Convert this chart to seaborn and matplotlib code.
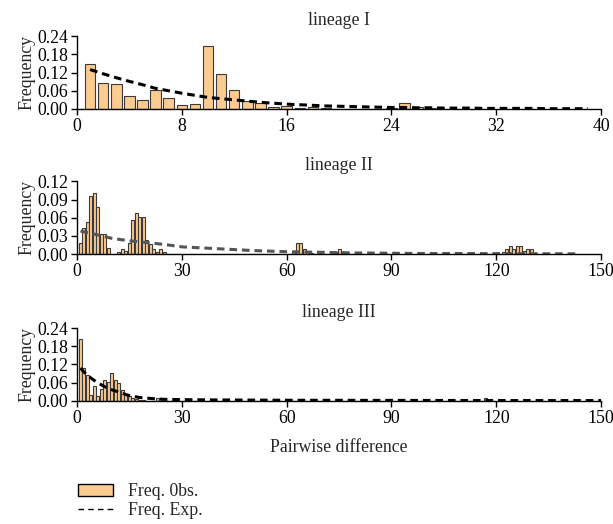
import matplotlib
matplotlib.use("Agg")
import matplotlib.pyplot as plt
from matplotlib.patches import Patch
from matplotlib.lines import Line2D
import seaborn as sns

# lineage I: observed / expected frequency of pairwise differences
lin1_x = list(range(1, 28))
lin1_obs = [0.147, 0.087, 0.082, 0.042, 0.030, 0.063, 0.037, 0.013, 0.016, 0.208,
            0.115, 0.062, 0.026, 0.020, 0.005, 0.010, 0.003, 0.005, 0.002, 0.001,
            0.001, 0.001, 0.001, 0.004, 0.020, 0.005, 0.003]
lin1_exp_x = list(range(1, 40))
lin1_exp = [0.130, 0.116, 0.103, 0.091, 0.080, 0.068, 0.060, 0.052, 0.045, 0.038,
            0.034, 0.030, 0.026, 0.022, 0.019, 0.016, 0.014, 0.012, 0.010, 0.009,
            0.008, 0.007, 0.006, 0.005, 0.005, 0.004, 0.004, 0.003, 0.003, 0.003,
            0.002, 0.002, 0.002, 0.002, 0.002, 0.001, 0.001, 0.001, 0.001]

# lineage II
lin2_x = [1, 2, 3, 4, 5, 6, 7, 8, 9,
          12, 13, 14, 15, 16, 17, 18, 19, 20, 21, 22, 23, 24, 25,
          62, 63, 64, 65, 66, 67, 69, 74, 75, 76,
          122, 123, 124, 125, 126, 127, 128, 129, 130]
lin2_obs = [0.019, 0.043, 0.053, 0.096, 0.100, 0.077, 0.034, 0.034, 0.010,
            0.004, 0.009, 0.005, 0.019, 0.057, 0.067, 0.062, 0.062, 0.024, 0.016,
            0.009, 0.004, 0.009, 0.004,
            0.004, 0.019, 0.019, 0.009, 0.004, 0.002, 0.004, 0.003, 0.009, 0.004,
            0.004, 0.009, 0.014, 0.009, 0.014, 0.014, 0.005, 0.009, 0.009]
lin2_exp_x = [1, 5, 10, 15, 20, 25, 30, 40, 50, 60, 70, 80, 90, 100, 110, 120, 130, 143]
lin2_exp = [0.038, 0.033, 0.026, 0.022, 0.019, 0.016, 0.012, 0.009, 0.006, 0.004,
            0.003, 0.002, 0.0015, 0.001, 0.001, 0.0008, 0.0006, 0.0005]

# lineage III
lin3_x = list(range(1, 20)) + [23, 24, 117]
lin3_obs = [0.204, 0.108, 0.086, 0.019, 0.048, 0.015, 0.040, 0.070, 0.062, 0.093,
            0.068, 0.059, 0.037, 0.024, 0.015, 0.010, 0.007, 0.004, 0.002,
            0.010, 0.008, 0.010]
lin3_exp_x = [1, 2, 4, 6, 9, 12, 15, 18, 22, 25, 30, 40, 60, 90, 120, 150]
lin3_exp = [0.108, 0.095, 0.075, 0.059, 0.040, 0.029, 0.017, 0.011, 0.007, 0.005,
            0.004, 0.003, 0.002, 0.0015, 0.001, 0.001]

panels = [
    ("lineage I", lin1_x, lin1_obs, lin1_exp_x, lin1_exp, "black", 40, [0, 8, 16, 24, 32, 40],
     0.24, [0, 0.06, 0.12, 0.18, 0.24], 0.8),
    ("lineage II", lin2_x, lin2_obs, lin2_exp_x, lin2_exp, "#555555", 150, [0, 30, 60, 90, 120, 150],
     0.12, [0, 0.03, 0.06, 0.09, 0.12], 0.85),
    ("lineage III", lin3_x, lin3_obs, lin3_exp_x, lin3_exp, "black", 150, [0, 30, 60, 90, 120, 150],
     0.24, [0, 0.06, 0.12, 0.18, 0.24], 0.85),
]

sns.set_style("ticks")
plt.rcParams["font.family"] = ["Liberation Serif", "DejaVu Serif"]
fs = 12.8
plt.rcParams["font.size"] = fs

bar_color = "#FCCB8F"
edge_color = "#3a3a3a"

fig = plt.figure(figsize=(6.13, 5.24), dpi=100)
bottoms = [0.792, 0.515, 0.235]

for (title, xs, obs, ex_x, ex, line_col, xmax, xt, ymax, yt, shrink), b in zip(panels, bottoms):
    ax = fig.add_axes([0.1256, b, 0.855, 0.139])
    sns.histplot(x=xs, weights=obs, discrete=True, shrink=shrink, ax=ax,
                 color=bar_color, alpha=1, edgecolor=edge_color, linewidth=0.8)
    sns.lineplot(x=ex_x, y=ex, ax=ax, color=line_col, linewidth=2.2,
                 linestyle=(0, (2.5, 1.6)), errorbar=None)
    ax.set_xlim(0, xmax)
    ax.set_ylim(0, ymax)
    ax.set_xticks(xt)
    ax.set_yticks(yt)
    ax.set_yticklabels([f"{v:.2f}" for v in yt])
    ax.set_ylabel("Frequency", labelpad=1, fontsize=fs)
    ax.set_xlabel("")
    ax.set_title(title, fontsize=fs, pad=8)
    ax.tick_params(axis="both", direction="out", length=4.5, width=1, colors="black",
                   pad=2, labelsize=fs)
    for side in ["left", "bottom"]:
        ax.spines[side].set_color("black")
        ax.spines[side].set_linewidth(1)
    sns.despine(ax=ax)

ax.set_xlabel("Pairwise difference", labelpad=9, fontsize=fs)

handles = [Patch(facecolor=bar_color, edgecolor="black", linewidth=1),
           Line2D([], [], color="black", linewidth=1, linestyle=(0, (4, 3)))]
fig.legend(handles, ["Freq. 0bs.", "Freq. Exp."], loc="upper left",
           bbox_to_anchor=(0.127, 0.078), frameon=False, borderpad=0, borderaxespad=0,
           handlelength=2.0, handletextpad=0.8, labelspacing=0.1, fontsize=fs)

fig.savefig("out.png", dpi=100)
